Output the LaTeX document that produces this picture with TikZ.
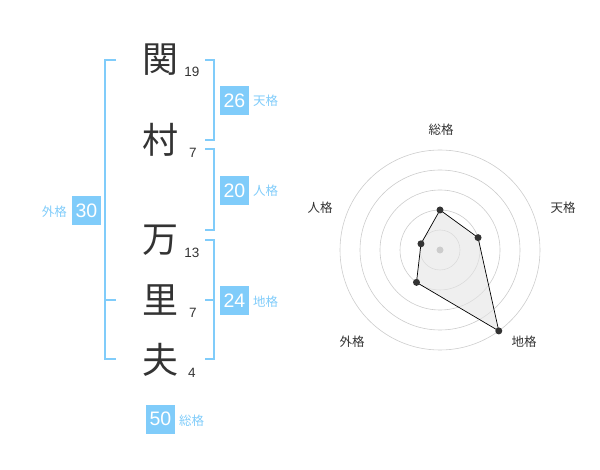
\documentclass[tikz,border=0pt]{standalone}
\usepackage{fontspec}
\usetikzlibrary{calc}
\setmainfont{Liberation Sans}
\newfontfamily\cjk{Noto Sans CJK JP}
\definecolor{skyb}{RGB}{128,204,250}
\definecolor{txt}{RGB}{51,51,51}
\definecolor{ring}{RGB}{204,204,204}
\tikzset{
  kanji/.style={font=\cjk\fontsize{36}{36}\selectfont, text=txt, inner sep=0pt},
  strokes/.style={font=\fontsize{13.5}{14}\selectfont, text=txt, inner sep=0pt},
  valbox/.style={fill=skyb, text=white, minimum width=29pt, minimum height=29pt, inner sep=0pt, font=\fontsize{19.5}{20}\selectfont},
  kaku/.style={font=\cjk\fontsize{12.5}{13}\selectfont, text=skyb, inner sep=0pt},
  brk/.style={draw=skyb, line width=2pt},
  axlab/.style={font=\cjk\fontsize{12.5}{13}\selectfont, text=txt, inner sep=0pt},
  dot/.style={circle, fill=txt, inner sep=0pt, minimum size=7pt},
}
\begin{document}
\begin{tikzpicture}[x=1pt,y=-1pt]
\useasboundingbox (0,0) rectangle (600,470);
% characters
\node[kanji] (c1) at (160,60) {関};
\node[kanji] (c2) at (160,140) {村};
\node[kanji] (c3) at (160,240) {万};
\node[kanji] (c4) at (160,300) {里};
\node[kanji] (c5) at (160,360) {夫};
\node[strokes] (n1) at (192,72) {19};
\node[strokes] (n2) at (193,153) {7};
\node[strokes] (n3) at (192,253) {13};
\node[strokes] (n4) at (193,313) {7};
\node[strokes] (n5) at (192,373) {4};
% brackets
\draw[brk] (116,60) -- (105,60) -- (105,359) -- (116,359);
\draw[brk] (105,300) -- (116,300);
\draw[brk] (205,60) -- (214,60) -- (214,140) -- (205,140);
\draw[brk] (205,149) -- (214,149) -- (214,230) -- (205,230);
\draw[brk] (205,240) -- (214,240) -- (214,359) -- (205,359);
\draw[brk] (205,300) -- (214,300);
% value boxes
\node[valbox] (ten) at (234.5,100.5) {26};
\node[kaku, anchor=west] (tenl) at (253,101) {天格};
\node[valbox] (jin) at (234.5,190.5) {20};
\node[kaku, anchor=west] (jinl) at (253,191) {人格};
\node[valbox] (chi) at (234.5,300.5) {24};
\node[kaku, anchor=west] (chil) at (253,302) {地格};
\node[valbox] (gai) at (86.5,211) {30};
\node[kaku, anchor=east] (gail) at (67,212) {外格};
\node[valbox] (sou) at (160.5,419) {50};
\node[kaku, anchor=west] (soul) at (179,421) {総格};
% radar
\coordinate (ctr) at (440,250);
\foreach \r in {20,40,60,80,100} \draw[ring, line width=0.6pt] (ctr) circle[radius=\r];
\coordinate (pS) at ($(ctr)+(0,-40)$);
\coordinate (pT) at ($(ctr)+({40*cos(18)},{-40*sin(18)})$);
\coordinate (pC) at ($(ctr)+({100*cos(54)},{100*sin(54)})$);
\coordinate (pG) at ($(ctr)+({-40*cos(54)},{40*sin(54)})$);
\coordinate (pJ) at ($(ctr)+({-20*cos(18)},{-20*sin(18)})$);
\fill[black!10, opacity=0.6] (pS) -- (pT) -- (pC) -- (pG) -- (pJ) -- cycle;
\draw[black, line width=0.7pt] (pS) -- (pT) -- (pC) -- (pG) -- (pJ) -- cycle;
\node[circle, fill=ring, inner sep=0pt, minimum size=7pt] (cdot) at (ctr) {};
\foreach \p in {pS,pT,pC,pG,pJ} \node[dot] (d\p) at (\p) {};
\node[axlab] (lS) at (441,130) {総格};
\node[axlab] (lT) at (563,208) {天格};
\node[axlab] (lC) at (524,342) {地格};
\node[axlab] (lG) at (352,342) {外格};
\node[axlab] (lJ) at (320,208) {人格};
\end{tikzpicture}
\end{document}
